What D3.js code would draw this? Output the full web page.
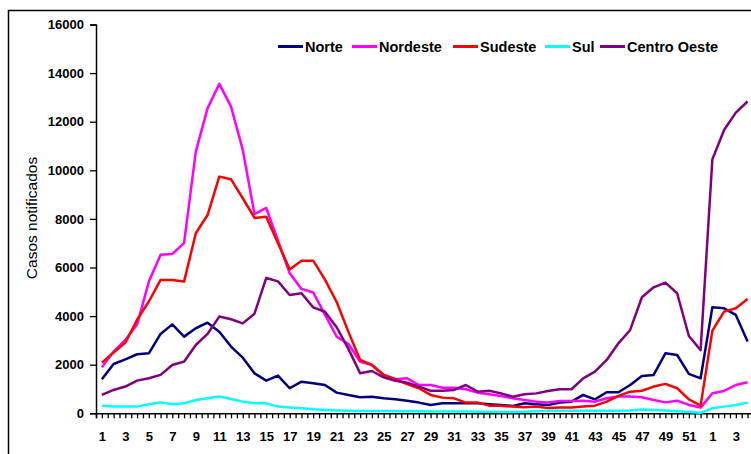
<!DOCTYPE html>
<html><head><meta charset="utf-8">
<script src="https://cdn.jsdelivr.net/npm/d3@7"></script>
<style>
body{margin:0;background:#fff;}
svg{display:block;font-family:"Liberation Sans",Arial,sans-serif;}
</style></head>
<body><svg id="chart" width="751" height="454"></svg>
<script>
const weeks = [1,2,3,4,5,6,7,8,9,10,11,12,13,14,15,16,17,18,19,20,21,22,23,24,25,26,27,28,29,30,31,32,33,34,35,36,37,38,39,40,41,42,43,44,45,46,47,48,49,50,51,52,1,2,3,4];
const seriesNames = ["Norte","Nordeste","Sudeste","Sul","Centro Oeste"];
const seriesColors = ["#000080","#FF00FF","#FF0000","#00FFFF","#800080"];
const norte = [1400,2030,2220,2430,2470,3265,3660,3155,3500,3730,3360,2745,2290,1645,1345,1550,1030,1300,1235,1165,
  850,755,660,685,615,575,520,440,340,410,410,410,410,370,340,300,410,370,340,
  440,480,755,575,865,865,1165,1535,1580,2470,2400,1620,1440,
  4360,4320,4050,2950];
const nordeste = [1890,2540,3020,3650,5420,6520,6560,7000,10770,12550,13555,12620,10840,8200,8450,7100,5760,5120,4970,4060,
  3150,2850,2120,1990,1575,1400,1440,1165,1165,1055,1055,990,850,780,710,615,550,480,440,
  510,510,520,480,620,690,690,660,550,450,520,345,235,
  825,920,1165,1275];
const sudeste = [2085,2500,2910,3850,4600,5490,5490,5420,7410,8160,9740,9630,8850,8040,8090,7000,5920,6280,6280,5500,
  4580,3350,2195,1990,1575,1400,1205,1030,755,645,615,440,440,315,315,275,245,275,220,
  235,235,275,315,480,715,890,930,1100,1210,1030,575,315,
  3400,4185,4320,4700];
const sul = [315,275,275,275,370,450,370,410,550,620,690,590,480,410,410,275,235,205,165,140,
  120,100,90,90,90,80,80,80,70,70,70,70,60,60,50,50,60,80,100,
  110,110,110,110,110,110,120,160,140,120,80,50,20,
  205,275,345,440];
const centroOeste = [755,960,1100,1345,1440,1580,1990,2125,2810,3265,3980,3870,3700,4100,5570,5430,4870,4940,4360,4180,
  3540,2650,1650,1740,1480,1340,1260,1100,930,930,960,1165,890,930,820,685,780,820,920,
  990,990,1440,1715,2195,2880,3430,4775,5185,5380,4940,3180,2600,
  10450,11660,12375,12830];
const yTicks = [0,2000,4000,6000,8000,10000,12000,14000,16000];
const yTitle = "Casos notificados";

const seriesData = [norte, nordeste, sudeste, sul, centroOeste];
const svg = d3.select("#chart");

// outer frame (cropped at right and bottom in reference)
svg.append("rect").attr("x",8.5).attr("y",10.5).attr("width",800).attr("height",500)
  .attr("fill","none").attr("stroke","#000").attr("stroke-width",1.5);

const x0 = 96, step = 11.74;
const x = d3.scaleLinear().domain([-0.5, weeks.length-0.5]).range([x0, x0 + weeks.length*step]);
const y = d3.scaleLinear().domain([0,16000]).range([413.3, 24.5]);

// y axis
const yAxis = d3.axisLeft(y).tickValues(yTicks).tickSize(6).tickPadding(6).tickFormat(d3.format("d"));
const gy = svg.append("g").attr("transform",`translate(${x0},0)`).call(yAxis);
gy.select(".domain").attr("stroke","#000").attr("stroke-width",1.5);
gy.selectAll(".tick line").attr("stroke","#000").attr("stroke-width",1.3);
gy.selectAll(".tick text").attr("font-size",13).attr("font-weight","bold").attr("fill","#000")
  .attr("font-family","Liberation Sans, Arial, sans-serif");

// x axis: tick marks every half category, labels every other category
const halfTicks = d3.range(-0.5, weeks.length, 0.5);
const xAxis = d3.axisBottom(x).tickValues(halfTicks).tickSize(5).tickPadding(13)
  .tickFormat(d => (Number.isInteger(d) && d % 2 === 0) ? weeks[d] : "");
const gx = svg.append("g").attr("transform",`translate(0,${y(0)})`).call(xAxis);
gx.select(".domain").attr("stroke","#000").attr("stroke-width",1.5);
gx.selectAll(".tick line").attr("stroke","#000").attr("stroke-width",1.3);
gx.selectAll(".tick text").attr("font-size",13).attr("font-weight","bold").attr("fill","#000")
  .attr("font-family","Liberation Sans, Arial, sans-serif");

// y title
svg.append("text").attr("transform","translate(37,218) rotate(-90)")
  .attr("text-anchor","middle").attr("font-size",15.5).attr("fill","#000").text(yTitle);

// lines
const line = d3.line().x((d,i)=>x(i)).y(d=>y(d));
seriesData.forEach((s,k)=>{
  svg.append("path").datum(s).attr("d",line).attr("fill","none")
    .attr("stroke",seriesColors[k]).attr("stroke-width",2.5).attr("stroke-linejoin","round");
});

// legend
const legendX = [278, 352, 453, 545, 600];
const lg = svg.append("g");
seriesNames.forEach((n,k)=>{
  lg.append("line").attr("x1",legendX[k]).attr("x2",legendX[k]+25).attr("y1",46.5).attr("y2",46.5)
    .attr("stroke",seriesColors[k]).attr("stroke-width",3);
  lg.append("text").attr("x",legendX[k]+27).attr("y",52).attr("font-size",14.5).attr("font-weight","bold")
    .attr("fill","#000").text(n);
});
</script></body></html>
